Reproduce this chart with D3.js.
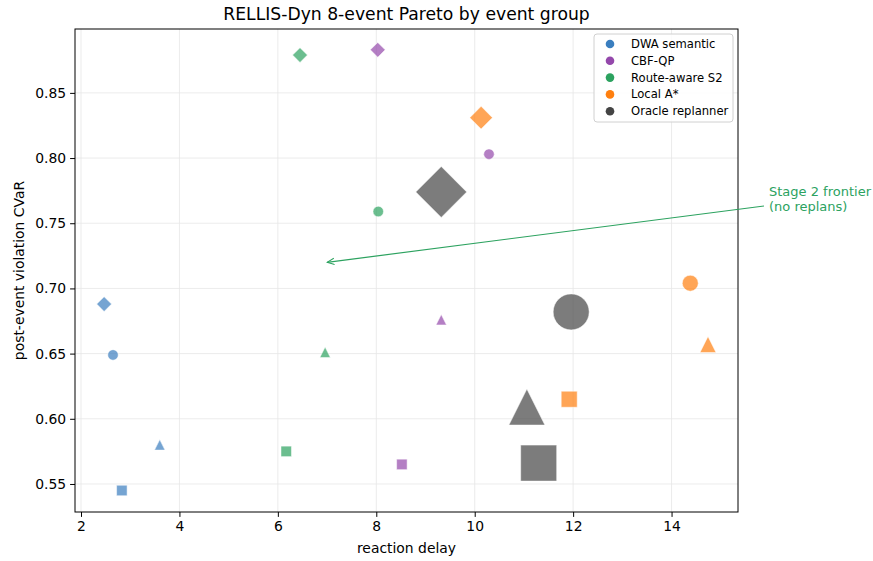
<!DOCTYPE html>
<html>
<head>
<meta charset="utf-8">
<script src="https://cdn.jsdelivr.net/npm/d3@7"></script>
<style>
  body { margin: 0; background: #fff; }
  svg { font-family: "DejaVu Sans", sans-serif; }
</style>
</head>
<body>
<div id="chart"></div>
<script>
// Data
const groups = ["DWA semantic", "CBF-QP", "Route-aware S2", "Local A*", "Oracle replanner"];
const groupColors = ["#3a7ebf", "#9448ab", "#2ca25f", "#ff7f0e", "#444444"];
const markerSize = [10.5, 10.5, 10.5, 16, 36]; // marker side in px
const shapes = ["diamond", "circle", "triangle", "square"];

// reaction delay per group, order: diamond, circle, triangle, square
const delays = [
  [2.47, 2.65, 3.60, 2.83],
  [8.03, 10.29, 9.32, 8.52],
  [6.45, 8.04, 6.96, 6.17],
  [10.13, 14.38, 14.74, 11.92],
  [9.32, 11.96, 11.06, 11.30]
];
const cvar = [
  [0.688, 0.649, 0.580, 0.545],
  [0.883, 0.803, 0.676, 0.565],
  [0.879, 0.759, 0.651, 0.575],
  [0.831, 0.704, 0.657, 0.615],
  [0.774, 0.682, 0.609, 0.566]
];
const xTicks = [2, 4, 6, 8, 10, 12, 14];
const yTicks = [0.55, 0.60, 0.65, 0.70, 0.75, 0.80, 0.85];

const width = 873, height = 561;
const margin = { top: 29, right: 135, bottom: 49, left: 75 };
const innerW = width - margin.left - margin.right,
      innerH = height - margin.top - margin.bottom;

const svg = d3.select("#chart").append("svg")
  .attr("width", width).attr("height", height);

const g = svg.append("g")
  .attr("transform", `translate(${margin.left},${margin.top})`);

const x = d3.scaleLinear().domain([1.878, 15.35]).range([0, innerW]);
const y = d3.scaleLinear().domain([0.5285, 0.899]).range([innerH, 0]);

// Grid
g.append("g").selectAll("line").data(xTicks).enter().append("line")
  .attr("x1", d => x(d)).attr("x2", d => x(d))
  .attr("y1", 0).attr("y2", innerH)
  .attr("stroke", "#e6e6e6").attr("stroke-width", 0.8);
g.append("g").selectAll("line").data(yTicks).enter().append("line")
  .attr("y1", d => y(d)).attr("y2", d => y(d))
  .attr("x1", 0).attr("x2", innerW)
  .attr("stroke", "#e6e6e6").attr("stroke-width", 0.8);

// Axes
const xAxis = g.append("g")
  .attr("transform", `translate(0,${innerH})`)
  .call(d3.axisBottom(x).tickValues(xTicks).tickSize(4.9).tickPadding(4).tickFormat(d3.format("d")));
const yAxis = g.append("g")
  .call(d3.axisLeft(y).tickValues(yTicks).tickSize(4.9).tickPadding(4).tickFormat(d3.format(".2f")));
[xAxis, yAxis].forEach(a => {
  a.select(".domain").remove();
  a.selectAll("text").style("font-size", "13.9px").style("fill", "#000")
    .style("font-family", "DejaVu Sans, sans-serif");
  a.selectAll("line").attr("stroke", "#000");
});

// Marker shapes, size = side length
const shapeType = {
  circle: { draw(ctx, s) { ctx.moveTo(s / 2, 0); ctx.arc(0, 0, s / 2, 0, 2 * Math.PI); } },
  square: { draw(ctx, s) { ctx.rect(-s / 2, -s / 2, s, s); } },
  diamond: { draw(ctx, s) {
    const h = s / Math.SQRT2;
    ctx.moveTo(0, -h); ctx.lineTo(h, 0); ctx.lineTo(0, h); ctx.lineTo(-h, 0); ctx.closePath();
  } },
  triangle: { draw(ctx, s) {
    ctx.moveTo(0, -s / 2); ctx.lineTo(s / 2, s / 2); ctx.lineTo(-s / 2, s / 2); ctx.closePath();
  } }
};

const points = [];
groups.forEach((name, gi) => {
  shapes.forEach((sh, si) => {
    points.push({ gi, shape: sh, x: delays[gi][si], y: cvar[gi][si] });
  });
});

g.append("g").selectAll("path").data(points).enter().append("path")
  .attr("transform", d => `translate(${x(d.x)},${y(d.y)})`)
  .attr("d", d => d3.symbol().type(shapeType[d.shape]).size(markerSize[d.gi])())
  .attr("fill", d => groupColors[d.gi])
  .attr("fill-opacity", 0.7)
  .attr("stroke", "#fff")
  .attr("stroke-width", 0.5);

// Frame
g.append("rect").attr("width", innerW).attr("height", innerH)
  .attr("fill", "none").attr("stroke", "#000").attr("stroke-width", 1);

// Annotation arrow
const annColor = "#2ca25f";
svg.append("defs").append("marker")
  .attr("id", "arrow").attr("viewBox", "0 0 10 10")
  .attr("refX", 9).attr("refY", 5)
  .attr("markerWidth", 8).attr("markerHeight", 8)
  .attr("markerUnits", "userSpaceOnUse")
  .attr("orient", "auto")
  .append("path").attr("d", "M0,1 L9,5 L0,9")
  .attr("fill", "none").attr("stroke", annColor).attr("stroke-width", 1.3);

const arrowHead = [7.0, 0.72];
svg.append("line")
  .attr("x1", 764).attr("y1", 206)
  .attr("x2", margin.left + x(arrowHead[0])).attr("y2", margin.top + y(arrowHead[1]))
  .attr("stroke", annColor).attr("stroke-width", 1.2)
  .attr("marker-end", "url(#arrow)");

const ann = svg.append("text").attr("x", 769).attr("y", 196)
  .style("font-size", "13px").attr("fill", annColor);
ann.append("tspan").attr("x", 769).text("Stage 2 frontier");
ann.append("tspan").attr("x", 769).attr("dy", 15).text("(no replans)");

// Title and labels
svg.append("text").attr("x", margin.left + innerW / 2).attr("y", 20)
  .attr("text-anchor", "middle").style("font-size", "17.2px").text("RELLIS-Dyn 8-event Pareto by event group");
svg.append("text").attr("x", margin.left + innerW / 2).attr("y", 553)
  .attr("text-anchor", "middle").style("font-size", "13.9px").text("reaction delay");
svg.append("text")
  .attr("transform", `translate(24,${margin.top + innerH / 2}) rotate(-90)`)
  .attr("text-anchor", "middle").style("font-size", "13.9px").text("post-event violation CVaR");

// Legend
const legend = svg.append("g").attr("transform", "translate(594,34)");
legend.append("rect").attr("width", 139).attr("height", 88).attr("rx", 3)
  .attr("fill", "#fff").attr("fill-opacity", 0.85).attr("stroke", "#d0d0d0");
const items = legend.selectAll(".legend-item").data(groups).enter().append("g")
  .attr("class", "legend-item")
  .attr("transform", (d, i) => `translate(0,${10 + i * 16.8})`);
items.append("circle").attr("cx", 16).attr("cy", 0).attr("r", 4.3)
  .attr("fill", (d, i) => groupColors[i]);
items.append("text").attr("x", 37).attr("y", 4)
  .style("font-size", "11.6px").text(d => d);
</script>
</body>
</html>
